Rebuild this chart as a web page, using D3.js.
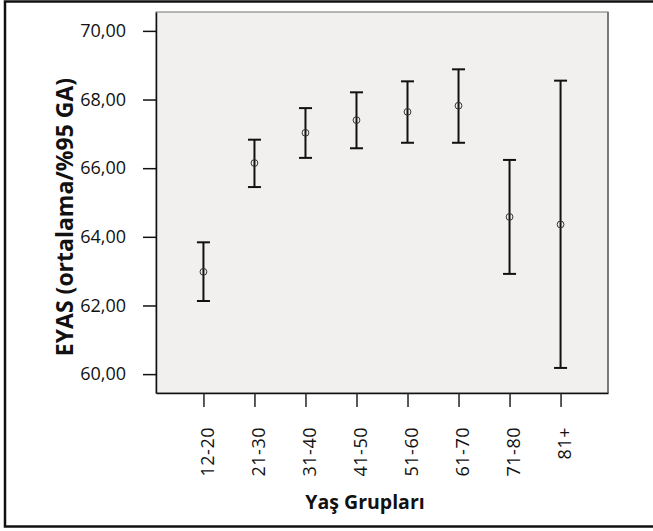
<!DOCTYPE html>
<html>
<head>
<meta charset="utf-8">
<script src="https://cdn.jsdelivr.net/npm/d3@7"></script>
<style>
  body { margin: 0; background: #fff; }
  svg { display: block; font-family: "Open Sans", sans-serif; }
</style>
</head>
<body>
<svg id="chart" width="653" height="531"></svg>
<script>
// age groups and the mean with its 95% interval
const groups = ["12-20", "21-30", "31-40", "41-50", "51-60", "61-70", "71-80", "81+"];
const means = [62.98, 66.15, 67.03, 67.40, 67.64, 67.82, 64.58, 64.36];
const lower = [62.13, 65.45, 66.30, 66.58, 66.74, 66.74, 62.92, 60.18];
const upper = [63.84, 66.83, 67.75, 68.21, 68.53, 68.88, 66.24, 68.55];
const yTicks = [60, 62, 64, 66, 68, 70];

const margin = {top: 12, right: 45, bottom: 138, left: 156};
const width = 653 - margin.left - margin.right;
const height = 531 - margin.top - margin.bottom;

const svg = d3.select("#chart");

// outer frame, right edge runs off the page like in the source
svg.append("rect")
    .attr("x", 5).attr("y", 1.5)
    .attr("width", 700).attr("height", 525)
    .attr("fill", "none")
    .attr("stroke", "#111")
    .attr("stroke-width", 2.5);

const x = d3.scalePoint()
    .domain(groups)
    .range([0, width])
    .padding(0.93);

const y = d3.scaleLinear()
    .domain([59.45, 70.55])
    .range([height, 0]);

const comma = d3.formatLocale({decimal: ",", thousands: ".", grouping: [3], currency: ["", ""]});

const g = svg.append("g")
    .attr("transform", "translate(" + margin.left + "," + margin.top + ")");

g.append("rect")
    .attr("width", width).attr("height", height)
    .attr("fill", "#f1f0ee")
    .attr("stroke", "#8a8a8a")
    .attr("stroke-width", 1.2);
// darker right edge
g.append("line")
    .attr("x1", width).attr("x2", width)
    .attr("y1", 0).attr("y2", height)
    .attr("stroke", "#666").attr("stroke-width", 1.5);

const yAxis = g.append("g")
    .call(d3.axisLeft(y).tickValues(yTicks).tickSize(13).tickSizeOuter(0).tickPadding(17)
        .tickFormat(comma.format(".2f")));
yAxis.select(".domain").attr("stroke", "#111").attr("stroke-width", 1.5);
yAxis.selectAll(".tick line").attr("stroke", "#111").attr("stroke-width", 1.5);
yAxis.selectAll("text")
    .attr("font-size", 18)
    .attr("fill", "#111")
    .attr("font-family", "Open Sans, sans-serif");

const xAxis = g.append("g")
    .attr("transform", "translate(0," + height + ")")
    .call(d3.axisBottom(x).tickSize(14).tickSizeOuter(0));
xAxis.select(".domain").attr("stroke", "#111").attr("stroke-width", 1.5);
xAxis.selectAll(".tick line").attr("stroke", "#222").attr("stroke-width", 1.5);
xAxis.selectAll("text")
    .attr("font-size", 18)
    .attr("letter-spacing", 0.5)
    .attr("fill", "#111")
    .attr("font-family", "Open Sans, sans-serif")
    .attr("transform", "rotate(-90)")
    .attr("text-anchor", "end")
    .attr("x", -34)
    .attr("y", 4)
    .attr("dy", "0.35em");

// error bars
const bars = g.selectAll(".bar")
    .data(groups)
    .join("g")
    .attr("class", "bar");

const cap = 6.5;
bars.append("line")
    .attr("x1", d => x(d)).attr("x2", d => x(d))
    .attr("y1", (d, i) => y(upper[i])).attr("y2", (d, i) => y(lower[i]))
    .attr("stroke", "#111").attr("stroke-width", 2);
bars.append("line")
    .attr("x1", d => x(d) - cap).attr("x2", d => x(d) + cap)
    .attr("y1", (d, i) => y(upper[i])).attr("y2", (d, i) => y(upper[i]))
    .attr("stroke", "#111").attr("stroke-width", 2);
bars.append("line")
    .attr("x1", d => x(d) - cap).attr("x2", d => x(d) + cap)
    .attr("y1", (d, i) => y(lower[i])).attr("y2", (d, i) => y(lower[i]))
    .attr("stroke", "#111").attr("stroke-width", 2);
bars.append("circle")
    .attr("cx", d => x(d))
    .attr("cy", (d, i) => y(means[i]))
    .attr("r", 3.4)
    .attr("fill", "none")
    .attr("stroke", "#333")
    .attr("stroke-width", 1);

// axis titles
svg.append("text")
    .attr("x", 365)
    .attr("y", 509)
    .attr("text-anchor", "middle")
    .attr("font-size", 19.5)
    .attr("font-weight", "bold")
    .attr("fill", "#111")
    .text("Yaş Grupları");

svg.append("text")
    .attr("transform", "translate(73,217) rotate(-90)")
    .attr("text-anchor", "middle")
    .attr("font-size", 23)
    .attr("font-weight", "bold")
    .attr("fill", "#111")
    .text("EYAS (ortalama/%95 GA)");
</script>
</body>
</html>
